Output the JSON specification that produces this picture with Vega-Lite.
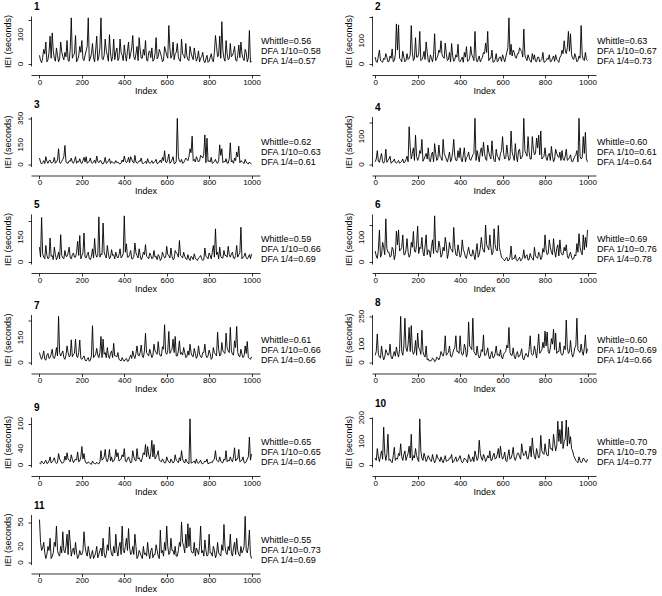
{
"$schema": "https://vega.github.io/schema/vega-lite/v6.json",
"padding": {"left": 3, "top": 2, "right": 0, "bottom": 0},
"background": "white",
"config": {
  "view": {"stroke": null},
  "font": "Liberation Sans",
  "axis": {"grid": false, "domainColor": "black", "tickColor": "black", "labelColor": "black", "titleColor": "black", "labelFont": "Liberation Sans", "titleFont": "Liberation Sans", "labelFontSize": 8, "titleFontSize": 9, "titleFontWeight": "normal", "tickSize": 3, "domainWidth": 0.8, "tickWidth": 0.8},
  "axisX": {"offset": 9, "labelPadding": 0, "titlePadding": 0, "labelFlush": false, "format": "d"},
  "axisY": {"labels": false, "titlePadding": 15},
  "title": {"anchor": "start", "frame": "group", "fontSize": 10, "fontWeight": "bold", "font": "Liberation Sans", "offset": 2, "color": "black", "dx": 3},
  "text": {"font": "Liberation Sans", "fontSize": 9, "color": "black"}
},
"datasets": {
"d1": [{"x":0,"y":30},{"x":10,"y":5},{"x":20,"y":50},{"x":30,"y":75},{"x":40,"y":15},{"x":50,"y":95},{"x":60,"y":106},{"x":70,"y":20},{"x":80,"y":55},{"x":90,"y":8},{"x":100,"y":75},{"x":110,"y":25},{"x":120,"y":40},{"x":130,"y":80},{"x":140,"y":10},{"x":150,"y":157},{"x":160,"y":30},{"x":170,"y":97},{"x":180,"y":15},{"x":190,"y":60},{"x":200,"y":80},{"x":210,"y":12},{"x":220,"y":45},{"x":230,"y":157},{"x":240,"y":20},{"x":250,"y":70},{"x":260,"y":8},{"x":270,"y":95},{"x":280,"y":25},{"x":290,"y":157},{"x":300,"y":15},{"x":310,"y":85},{"x":320,"y":30},{"x":330,"y":100},{"x":340,"y":10},{"x":350,"y":85},{"x":360,"y":40},{"x":370,"y":12},{"x":380,"y":85},{"x":390,"y":30},{"x":400,"y":65},{"x":410,"y":10},{"x":420,"y":75},{"x":430,"y":35},{"x":440,"y":97},{"x":450,"y":15},{"x":460,"y":60},{"x":470,"y":90},{"x":480,"y":20},{"x":490,"y":50},{"x":500,"y":80},{"x":510,"y":10},{"x":520,"y":45},{"x":530,"y":55},{"x":540,"y":15},{"x":550,"y":90},{"x":560,"y":25},{"x":570,"y":40},{"x":580,"y":8},{"x":590,"y":60},{"x":600,"y":30},{"x":610,"y":131},{"x":620,"y":20},{"x":630,"y":75},{"x":640,"y":35},{"x":650,"y":70},{"x":660,"y":12},{"x":670,"y":85},{"x":680,"y":30},{"x":690,"y":70},{"x":700,"y":15},{"x":710,"y":60},{"x":720,"y":25},{"x":730,"y":55},{"x":740,"y":10},{"x":750,"y":45},{"x":760,"y":20},{"x":770,"y":40},{"x":780,"y":5},{"x":790,"y":30},{"x":800,"y":10},{"x":810,"y":35},{"x":820,"y":8},{"x":830,"y":97},{"x":840,"y":25},{"x":850,"y":95},{"x":860,"y":144},{"x":870,"y":20},{"x":880,"y":80},{"x":890,"y":15},{"x":900,"y":70},{"x":910,"y":30},{"x":920,"y":60},{"x":930,"y":10},{"x":940,"y":65},{"x":950,"y":75},{"x":960,"y":20},{"x":970,"y":50},{"x":980,"y":8},{"x":990,"y":114},{"x":1000,"y":10},
{"x":5,"y":12},{"x":15,"y":22},{"x":25,"y":35},{"x":35,"y":8},{"x":45,"y":40},{"x":55,"y":20},{"x":65,"y":45},{"x":75,"y":10},{"x":85,"y":30},{"x":95,"y":18},{"x":105,"y":42},{"x":115,"y":15},{"x":125,"y":25},{"x":135,"y":12},{"x":145,"y":50},{"x":155,"y":20},{"x":165,"y":35},{"x":175,"y":8},{"x":185,"y":28},{"x":195,"y":40},{"x":205,"y":18},{"x":215,"y":30},{"x":225,"y":60},{"x":235,"y":10},{"x":245,"y":35},{"x":255,"y":22},{"x":265,"y":48},{"x":275,"y":12},{"x":285,"y":55},{"x":295,"y":20},{"x":305,"y":30},{"x":315,"y":45},{"x":325,"y":10},{"x":335,"y":38},{"x":345,"y":25},{"x":355,"y":15},{"x":365,"y":55},{"x":375,"y":20},{"x":385,"y":40},{"x":395,"y":12},{"x":405,"y":30},{"x":415,"y":45},{"x":425,"y":18},{"x":435,"y":55},{"x":445,"y":25},{"x":455,"y":35},{"x":465,"y":12},{"x":475,"y":48},{"x":485,"y":20},{"x":495,"y":30},{"x":505,"y":15},{"x":515,"y":40},{"x":525,"y":22},{"x":535,"y":10},{"x":545,"y":35},{"x":555,"y":18},{"x":565,"y":50},{"x":575,"y":25},{"x":585,"y":12},{"x":595,"y":45},{"x":605,"y":20},{"x":615,"y":55},{"x":625,"y":30},{"x":635,"y":15},{"x":645,"y":40},{"x":655,"y":25},{"x":665,"y":10},{"x":675,"y":35},{"x":685,"y":20},{"x":695,"y":28},{"x":705,"y":12},{"x":715,"y":38},{"x":725,"y":15},{"x":735,"y":30},{"x":745,"y":20},{"x":755,"y":8},{"x":765,"y":25},{"x":775,"y":12},{"x":785,"y":18},{"x":795,"y":6},{"x":805,"y":22},{"x":815,"y":15},{"x":825,"y":40},{"x":835,"y":60},{"x":845,"y":30},{"x":855,"y":20},{"x":865,"y":45},{"x":875,"y":10},{"x":885,"y":35},{"x":895,"y":18},{"x":905,"y":25},{"x":915,"y":40},{"x":925,"y":15},{"x":935,"y":30},{"x":945,"y":22},{"x":955,"y":35},{"x":965,"y":12},{"x":975,"y":40},{"x":985,"y":20},{"x":995,"y":6}],
"d2": [{"x":0,"y":30},{"x":10,"y":8},{"x":20,"y":60},{"x":30,"y":12},{"x":40,"y":25},{"x":50,"y":45},{"x":60,"y":10},{"x":70,"y":35},{"x":80,"y":65},{"x":90,"y":15},{"x":100,"y":172},{"x":110,"y":168},{"x":120,"y":20},{"x":130,"y":55},{"x":140,"y":10},{"x":150,"y":45},{"x":160,"y":25},{"x":170,"y":165},{"x":180,"y":15},{"x":190,"y":113},{"x":200,"y":30},{"x":210,"y":140},{"x":220,"y":20},{"x":230,"y":55},{"x":240,"y":95},{"x":250,"y":15},{"x":260,"y":40},{"x":270,"y":10},{"x":280,"y":130},{"x":290,"y":25},{"x":300,"y":60},{"x":310,"y":100},{"x":320,"y":30},{"x":330,"y":90},{"x":340,"y":15},{"x":350,"y":50},{"x":360,"y":88},{"x":370,"y":12},{"x":380,"y":40},{"x":390,"y":85},{"x":400,"y":10},{"x":410,"y":30},{"x":420,"y":50},{"x":430,"y":75},{"x":440,"y":15},{"x":450,"y":75},{"x":460,"y":30},{"x":470,"y":140},{"x":480,"y":10},{"x":490,"y":35},{"x":500,"y":20},{"x":510,"y":50},{"x":520,"y":90},{"x":530,"y":140},{"x":540,"y":25},{"x":550,"y":60},{"x":560,"y":10},{"x":570,"y":45},{"x":580,"y":15},{"x":590,"y":30},{"x":600,"y":40},{"x":610,"y":10},{"x":620,"y":50},{"x":630,"y":198},{"x":640,"y":85},{"x":650,"y":60},{"x":660,"y":30},{"x":670,"y":45},{"x":680,"y":70},{"x":690,"y":55},{"x":700,"y":150},{"x":710,"y":25},{"x":720,"y":40},{"x":730,"y":15},{"x":740,"y":45},{"x":750,"y":40},{"x":760,"y":10},{"x":770,"y":30},{"x":780,"y":15},{"x":790,"y":50},{"x":800,"y":10},{"x":810,"y":25},{"x":820,"y":40},{"x":830,"y":12},{"x":840,"y":35},{"x":850,"y":40},{"x":860,"y":15},{"x":870,"y":30},{"x":880,"y":60},{"x":890,"y":100},{"x":900,"y":45},{"x":910,"y":140},{"x":920,"y":130},{"x":930,"y":25},{"x":940,"y":45},{"x":950,"y":10},{"x":960,"y":35},{"x":970,"y":165},{"x":980,"y":20},{"x":990,"y":50},{"x":1000,"y":15},
{"x":5,"y":10},{"x":15,"y":35},{"x":25,"y":15},{"x":35,"y":8},{"x":45,"y":20},{"x":55,"y":30},{"x":65,"y":12},{"x":75,"y":25},{"x":85,"y":10},{"x":95,"y":40},{"x":105,"y":60},{"x":115,"y":25},{"x":125,"y":10},{"x":135,"y":30},{"x":145,"y":15},{"x":155,"y":20},{"x":165,"y":40},{"x":175,"y":50},{"x":185,"y":25},{"x":195,"y":30},{"x":205,"y":45},{"x":215,"y":15},{"x":225,"y":30},{"x":235,"y":20},{"x":245,"y":50},{"x":255,"y":8},{"x":265,"y":25},{"x":275,"y":40},{"x":285,"y":15},{"x":295,"y":35},{"x":305,"y":50},{"x":315,"y":40},{"x":325,"y":25},{"x":335,"y":45},{"x":345,"y":20},{"x":355,"y":10},{"x":365,"y":35},{"x":375,"y":20},{"x":385,"y":30},{"x":395,"y":15},{"x":405,"y":20},{"x":415,"y":8},{"x":425,"y":30},{"x":435,"y":12},{"x":445,"y":25},{"x":455,"y":40},{"x":465,"y":15},{"x":475,"y":30},{"x":485,"y":20},{"x":495,"y":10},{"x":505,"y":30},{"x":515,"y":45},{"x":525,"y":50},{"x":535,"y":15},{"x":545,"y":25},{"x":555,"y":8},{"x":565,"y":20},{"x":575,"y":10},{"x":585,"y":30},{"x":595,"y":12},{"x":605,"y":25},{"x":615,"y":30},{"x":625,"y":70},{"x":635,"y":40},{"x":645,"y":35},{"x":655,"y":50},{"x":665,"y":25},{"x":675,"y":45},{"x":685,"y":60},{"x":695,"y":30},{"x":705,"y":40},{"x":715,"y":15},{"x":725,"y":25},{"x":735,"y":8},{"x":745,"y":20},{"x":755,"y":12},{"x":765,"y":30},{"x":775,"y":10},{"x":785,"y":20},{"x":795,"y":8},{"x":805,"y":15},{"x":815,"y":20},{"x":825,"y":10},{"x":835,"y":25},{"x":845,"y":12},{"x":855,"y":20},{"x":865,"y":8},{"x":875,"y":35},{"x":885,"y":45},{"x":895,"y":60},{"x":905,"y":70},{"x":915,"y":55},{"x":925,"y":40},{"x":935,"y":20},{"x":945,"y":30},{"x":955,"y":15},{"x":965,"y":25},{"x":975,"y":40},{"x":985,"y":15},{"x":995,"y":20}],
"d3": [{"x":0,"y":50},{"x":10,"y":5},{"x":20,"y":30},{"x":30,"y":60},{"x":40,"y":10},{"x":50,"y":35},{"x":60,"y":15},{"x":70,"y":55},{"x":80,"y":20},{"x":90,"y":120},{"x":100,"y":10},{"x":110,"y":40},{"x":120,"y":145},{"x":130,"y":15},{"x":140,"y":30},{"x":150,"y":50},{"x":160,"y":10},{"x":170,"y":60},{"x":180,"y":25},{"x":190,"y":45},{"x":200,"y":8},{"x":210,"y":55},{"x":220,"y":60},{"x":230,"y":20},{"x":240,"y":50},{"x":250,"y":10},{"x":260,"y":35},{"x":270,"y":65},{"x":280,"y":15},{"x":290,"y":30},{"x":300,"y":5},{"x":310,"y":55},{"x":320,"y":15},{"x":330,"y":45},{"x":340,"y":25},{"x":350,"y":10},{"x":360,"y":30},{"x":370,"y":20},{"x":380,"y":5},{"x":390,"y":35},{"x":400,"y":65},{"x":410,"y":15},{"x":420,"y":55},{"x":430,"y":60},{"x":440,"y":20},{"x":450,"y":70},{"x":460,"y":10},{"x":470,"y":30},{"x":480,"y":50},{"x":490,"y":8},{"x":500,"y":25},{"x":510,"y":45},{"x":520,"y":10},{"x":530,"y":30},{"x":540,"y":15},{"x":550,"y":40},{"x":560,"y":10},{"x":570,"y":35},{"x":580,"y":55},{"x":590,"y":105},{"x":600,"y":15},{"x":610,"y":80},{"x":620,"y":20},{"x":630,"y":60},{"x":640,"y":10},{"x":650,"y":350},{"x":660,"y":25},{"x":670,"y":40},{"x":680,"y":15},{"x":690,"y":50},{"x":700,"y":30},{"x":710,"y":120},{"x":720,"y":215},{"x":730,"y":40},{"x":740,"y":60},{"x":750,"y":20},{"x":760,"y":70},{"x":770,"y":50},{"x":780,"y":225},{"x":790,"y":200},{"x":800,"y":30},{"x":810,"y":55},{"x":820,"y":15},{"x":830,"y":40},{"x":840,"y":10},{"x":850,"y":150},{"x":860,"y":120},{"x":870,"y":25},{"x":880,"y":45},{"x":890,"y":10},{"x":900,"y":165},{"x":910,"y":30},{"x":920,"y":50},{"x":930,"y":95},{"x":940,"y":140},{"x":950,"y":30},{"x":960,"y":15},{"x":970,"y":40},{"x":980,"y":10},{"x":990,"y":20},{"x":1000,"y":5},
{"x":5,"y":20},{"x":15,"y":15},{"x":25,"y":8},{"x":35,"y":25},{"x":45,"y":30},{"x":55,"y":12},{"x":65,"y":20},{"x":75,"y":10},{"x":85,"y":35},{"x":95,"y":15},{"x":105,"y":25},{"x":115,"y":60},{"x":125,"y":20},{"x":135,"y":10},{"x":145,"y":25},{"x":155,"y":18},{"x":165,"y":30},{"x":175,"y":10},{"x":185,"y":20},{"x":195,"y":15},{"x":205,"y":30},{"x":215,"y":20},{"x":225,"y":10},{"x":235,"y":25},{"x":245,"y":15},{"x":255,"y":20},{"x":265,"y":10},{"x":275,"y":25},{"x":285,"y":30},{"x":295,"y":8},{"x":305,"y":20},{"x":315,"y":10},{"x":325,"y":30},{"x":335,"y":8},{"x":345,"y":20},{"x":355,"y":12},{"x":365,"y":15},{"x":375,"y":8},{"x":385,"y":12},{"x":395,"y":20},{"x":405,"y":30},{"x":415,"y":25},{"x":425,"y":15},{"x":435,"y":40},{"x":445,"y":12},{"x":455,"y":20},{"x":465,"y":15},{"x":475,"y":25},{"x":485,"y":10},{"x":495,"y":15},{"x":505,"y":8},{"x":515,"y":20},{"x":525,"y":15},{"x":535,"y":10},{"x":545,"y":25},{"x":555,"y":8},{"x":565,"y":20},{"x":575,"y":15},{"x":585,"y":30},{"x":595,"y":20},{"x":605,"y":40},{"x":615,"y":10},{"x":625,"y":35},{"x":635,"y":8},{"x":645,"y":25},{"x":655,"y":60},{"x":665,"y":20},{"x":675,"y":10},{"x":685,"y":30},{"x":695,"y":40},{"x":705,"y":60},{"x":715,"y":90},{"x":725,"y":30},{"x":735,"y":20},{"x":745,"y":40},{"x":755,"y":30},{"x":765,"y":60},{"x":775,"y":80},{"x":785,"y":15},{"x":795,"y":25},{"x":805,"y":20},{"x":815,"y":10},{"x":825,"y":25},{"x":835,"y":15},{"x":845,"y":30},{"x":855,"y":70},{"x":865,"y":15},{"x":875,"y":20},{"x":885,"y":12},{"x":895,"y":45},{"x":905,"y":20},{"x":915,"y":10},{"x":925,"y":30},{"x":935,"y":60},{"x":945,"y":15},{"x":955,"y":25},{"x":965,"y":8},{"x":975,"y":20},{"x":985,"y":5},{"x":995,"y":10}],
"d4": [{"x":0,"y":10},{"x":10,"y":50},{"x":20,"y":8},{"x":30,"y":40},{"x":40,"y":5},{"x":50,"y":55},{"x":60,"y":15},{"x":70,"y":30},{"x":80,"y":10},{"x":90,"y":20},{"x":100,"y":5},{"x":110,"y":15},{"x":120,"y":8},{"x":130,"y":20},{"x":140,"y":10},{"x":150,"y":30},{"x":160,"y":135},{"x":170,"y":20},{"x":180,"y":60},{"x":190,"y":105},{"x":200,"y":15},{"x":210,"y":50},{"x":220,"y":90},{"x":230,"y":20},{"x":240,"y":40},{"x":250,"y":60},{"x":260,"y":10},{"x":270,"y":45},{"x":280,"y":75},{"x":290,"y":15},{"x":300,"y":70},{"x":310,"y":25},{"x":320,"y":90},{"x":330,"y":30},{"x":340,"y":10},{"x":350,"y":45},{"x":360,"y":20},{"x":370,"y":90},{"x":380,"y":15},{"x":390,"y":50},{"x":400,"y":60},{"x":410,"y":10},{"x":420,"y":60},{"x":430,"y":25},{"x":440,"y":45},{"x":450,"y":15},{"x":460,"y":35},{"x":470,"y":165},{"x":480,"y":50},{"x":490,"y":10},{"x":500,"y":60},{"x":510,"y":80},{"x":520,"y":20},{"x":530,"y":70},{"x":540,"y":30},{"x":550,"y":85},{"x":560,"y":15},{"x":570,"y":55},{"x":580,"y":25},{"x":590,"y":40},{"x":600,"y":100},{"x":610,"y":20},{"x":620,"y":70},{"x":630,"y":15},{"x":640,"y":120},{"x":650,"y":30},{"x":660,"y":75},{"x":670,"y":10},{"x":680,"y":55},{"x":690,"y":25},{"x":700,"y":165},{"x":710,"y":40},{"x":720,"y":100},{"x":730,"y":20},{"x":740,"y":100},{"x":750,"y":35},{"x":760,"y":95},{"x":770,"y":105},{"x":780,"y":120},{"x":790,"y":25},{"x":800,"y":60},{"x":810,"y":15},{"x":820,"y":40},{"x":830,"y":65},{"x":840,"y":10},{"x":850,"y":55},{"x":860,"y":30},{"x":870,"y":45},{"x":880,"y":50},{"x":890,"y":15},{"x":900,"y":55},{"x":910,"y":20},{"x":920,"y":35},{"x":930,"y":10},{"x":940,"y":30},{"x":950,"y":50},{"x":960,"y":165},{"x":970,"y":20},{"x":980,"y":100},{"x":990,"y":115},{"x":1000,"y":10},
{"x":5,"y":20},{"x":15,"y":12},{"x":25,"y":25},{"x":35,"y":10},{"x":45,"y":15},{"x":55,"y":8},{"x":65,"y":20},{"x":75,"y":5},{"x":85,"y":12},{"x":95,"y":8},{"x":105,"y":10},{"x":115,"y":5},{"x":125,"y":12},{"x":135,"y":6},{"x":145,"y":18},{"x":155,"y":10},{"x":165,"y":60},{"x":175,"y":40},{"x":185,"y":15},{"x":195,"y":30},{"x":205,"y":25},{"x":215,"y":40},{"x":225,"y":12},{"x":235,"y":30},{"x":245,"y":20},{"x":255,"y":15},{"x":265,"y":35},{"x":275,"y":10},{"x":285,"y":40},{"x":295,"y":20},{"x":305,"y":30},{"x":315,"y":15},{"x":325,"y":40},{"x":335,"y":20},{"x":345,"y":25},{"x":355,"y":10},{"x":365,"y":45},{"x":375,"y":30},{"x":385,"y":15},{"x":395,"y":25},{"x":405,"y":20},{"x":415,"y":35},{"x":425,"y":10},{"x":435,"y":30},{"x":445,"y":20},{"x":455,"y":25},{"x":465,"y":40},{"x":475,"y":15},{"x":485,"y":30},{"x":495,"y":45},{"x":505,"y":30},{"x":515,"y":40},{"x":525,"y":15},{"x":535,"y":45},{"x":545,"y":20},{"x":555,"y":35},{"x":565,"y":10},{"x":575,"y":30},{"x":585,"y":15},{"x":595,"y":50},{"x":605,"y":40},{"x":615,"y":25},{"x":625,"y":35},{"x":635,"y":20},{"x":645,"y":45},{"x":655,"y":15},{"x":665,"y":30},{"x":675,"y":50},{"x":685,"y":20},{"x":695,"y":35},{"x":705,"y":50},{"x":715,"y":30},{"x":725,"y":45},{"x":735,"y":20},{"x":745,"y":55},{"x":755,"y":40},{"x":765,"y":60},{"x":775,"y":35},{"x":785,"y":20},{"x":795,"y":30},{"x":805,"y":25},{"x":815,"y":35},{"x":825,"y":15},{"x":835,"y":30},{"x":845,"y":20},{"x":855,"y":40},{"x":865,"y":25},{"x":875,"y":15},{"x":885,"y":20},{"x":895,"y":30},{"x":905,"y":15},{"x":915,"y":25},{"x":925,"y":12},{"x":935,"y":20},{"x":945,"y":35},{"x":955,"y":10},{"x":965,"y":30},{"x":975,"y":25},{"x":985,"y":40},{"x":995,"y":20}],
"d5": [{"x":0,"y":90},{"x":10,"y":268},{"x":20,"y":30},{"x":30,"y":100},{"x":40,"y":20},{"x":50,"y":145},{"x":60,"y":40},{"x":70,"y":90},{"x":80,"y":15},{"x":90,"y":60},{"x":100,"y":165},{"x":110,"y":25},{"x":120,"y":70},{"x":130,"y":35},{"x":140,"y":90},{"x":150,"y":20},{"x":160,"y":55},{"x":170,"y":30},{"x":180,"y":125},{"x":190,"y":160},{"x":200,"y":40},{"x":210,"y":175},{"x":220,"y":25},{"x":230,"y":60},{"x":240,"y":15},{"x":250,"y":80},{"x":260,"y":142},{"x":270,"y":30},{"x":280,"y":272},{"x":290,"y":50},{"x":300,"y":235},{"x":310,"y":40},{"x":320,"y":100},{"x":330,"y":20},{"x":340,"y":75},{"x":350,"y":45},{"x":360,"y":60},{"x":370,"y":25},{"x":380,"y":80},{"x":390,"y":35},{"x":400,"y":278},{"x":410,"y":110},{"x":420,"y":30},{"x":430,"y":70},{"x":440,"y":20},{"x":450,"y":115},{"x":460,"y":40},{"x":470,"y":80},{"x":480,"y":15},{"x":490,"y":60},{"x":500,"y":105},{"x":510,"y":30},{"x":520,"y":55},{"x":530,"y":20},{"x":540,"y":70},{"x":550,"y":35},{"x":560,"y":45},{"x":570,"y":10},{"x":580,"y":60},{"x":590,"y":25},{"x":600,"y":95},{"x":610,"y":40},{"x":620,"y":85},{"x":630,"y":15},{"x":640,"y":70},{"x":650,"y":50},{"x":660,"y":130},{"x":670,"y":35},{"x":680,"y":60},{"x":690,"y":20},{"x":700,"y":45},{"x":710,"y":10},{"x":720,"y":30},{"x":730,"y":50},{"x":740,"y":15},{"x":750,"y":25},{"x":760,"y":40},{"x":770,"y":10},{"x":780,"y":85},{"x":790,"y":30},{"x":800,"y":55},{"x":810,"y":20},{"x":820,"y":100},{"x":830,"y":200},{"x":840,"y":60},{"x":850,"y":90},{"x":860,"y":25},{"x":870,"y":70},{"x":880,"y":40},{"x":890,"y":95},{"x":900,"y":30},{"x":910,"y":60},{"x":920,"y":20},{"x":930,"y":100},{"x":940,"y":45},{"x":950,"y":210},{"x":960,"y":30},{"x":970,"y":55},{"x":980,"y":20},{"x":990,"y":45},{"x":1000,"y":50},
{"x":5,"y":30},{"x":15,"y":50},{"x":25,"y":20},{"x":35,"y":40},{"x":45,"y":25},{"x":55,"y":35},{"x":65,"y":15},{"x":75,"y":45},{"x":85,"y":30},{"x":95,"y":20},{"x":105,"y":40},{"x":115,"y":20},{"x":125,"y":35},{"x":135,"y":55},{"x":145,"y":25},{"x":155,"y":45},{"x":165,"y":30},{"x":175,"y":60},{"x":185,"y":40},{"x":195,"y":20},{"x":205,"y":55},{"x":215,"y":30},{"x":225,"y":45},{"x":235,"y":20},{"x":245,"y":35},{"x":255,"y":25},{"x":265,"y":50},{"x":275,"y":40},{"x":285,"y":30},{"x":295,"y":45},{"x":305,"y":60},{"x":315,"y":25},{"x":325,"y":50},{"x":335,"y":30},{"x":345,"y":40},{"x":355,"y":20},{"x":365,"y":35},{"x":375,"y":45},{"x":385,"y":25},{"x":395,"y":50},{"x":405,"y":60},{"x":415,"y":30},{"x":425,"y":45},{"x":435,"y":20},{"x":445,"y":35},{"x":455,"y":55},{"x":465,"y":25},{"x":475,"y":40},{"x":485,"y":30},{"x":495,"y":45},{"x":505,"y":35},{"x":515,"y":20},{"x":525,"y":40},{"x":535,"y":25},{"x":545,"y":30},{"x":555,"y":15},{"x":565,"y":35},{"x":575,"y":20},{"x":585,"y":40},{"x":595,"y":30},{"x":605,"y":45},{"x":615,"y":25},{"x":625,"y":35},{"x":635,"y":20},{"x":645,"y":55},{"x":655,"y":30},{"x":665,"y":40},{"x":675,"y":25},{"x":685,"y":35},{"x":695,"y":15},{"x":705,"y":20},{"x":715,"y":35},{"x":725,"y":15},{"x":735,"y":25},{"x":745,"y":10},{"x":755,"y":30},{"x":765,"y":20},{"x":775,"y":15},{"x":785,"y":35},{"x":795,"y":20},{"x":805,"y":40},{"x":815,"y":60},{"x":825,"y":30},{"x":835,"y":45},{"x":845,"y":20},{"x":855,"y":35},{"x":865,"y":25},{"x":875,"y":40},{"x":885,"y":30},{"x":895,"y":45},{"x":905,"y":50},{"x":915,"y":25},{"x":925,"y":40},{"x":935,"y":30},{"x":945,"y":55},{"x":955,"y":20},{"x":965,"y":35},{"x":975,"y":25},{"x":985,"y":30},{"x":995,"y":20}],
"d6": [{"x":0,"y":45},{"x":10,"y":15},{"x":20,"y":130},{"x":30,"y":30},{"x":40,"y":60},{"x":50,"y":175},{"x":60,"y":40},{"x":70,"y":20},{"x":80,"y":60},{"x":90,"y":10},{"x":100,"y":125},{"x":110,"y":130},{"x":120,"y":50},{"x":130,"y":110},{"x":140,"y":30},{"x":150,"y":95},{"x":160,"y":20},{"x":170,"y":80},{"x":180,"y":124},{"x":190,"y":40},{"x":200,"y":145},{"x":210,"y":60},{"x":220,"y":100},{"x":230,"y":25},{"x":240,"y":110},{"x":250,"y":50},{"x":260,"y":20},{"x":270,"y":90},{"x":280,"y":187},{"x":290,"y":40},{"x":300,"y":85},{"x":310,"y":20},{"x":320,"y":60},{"x":330,"y":100},{"x":340,"y":15},{"x":350,"y":80},{"x":360,"y":50},{"x":370,"y":140},{"x":380,"y":30},{"x":390,"y":70},{"x":400,"y":20},{"x":410,"y":90},{"x":420,"y":40},{"x":430,"y":15},{"x":440,"y":60},{"x":450,"y":25},{"x":460,"y":50},{"x":470,"y":10},{"x":480,"y":75},{"x":490,"y":30},{"x":500,"y":100},{"x":510,"y":45},{"x":520,"y":150},{"x":530,"y":60},{"x":540,"y":110},{"x":550,"y":30},{"x":560,"y":135},{"x":570,"y":50},{"x":580,"y":148},{"x":590,"y":40},{"x":600,"y":15},{"x":610,"y":5},{"x":620,"y":20},{"x":630,"y":8},{"x":640,"y":65},{"x":650,"y":15},{"x":660,"y":30},{"x":670,"y":5},{"x":680,"y":20},{"x":690,"y":10},{"x":700,"y":50},{"x":710,"y":25},{"x":720,"y":8},{"x":730,"y":35},{"x":740,"y":15},{"x":750,"y":60},{"x":760,"y":20},{"x":770,"y":40},{"x":780,"y":10},{"x":790,"y":55},{"x":800,"y":110},{"x":810,"y":30},{"x":820,"y":90},{"x":830,"y":40},{"x":840,"y":95},{"x":850,"y":20},{"x":860,"y":70},{"x":870,"y":90},{"x":880,"y":30},{"x":890,"y":60},{"x":900,"y":70},{"x":910,"y":15},{"x":920,"y":40},{"x":930,"y":10},{"x":940,"y":30},{"x":950,"y":75},{"x":960,"y":115},{"x":970,"y":40},{"x":980,"y":110},{"x":990,"y":100},{"x":1000,"y":130},
{"x":5,"y":25},{"x":15,"y":50},{"x":25,"y":20},{"x":35,"y":80},{"x":45,"y":30},{"x":55,"y":55},{"x":65,"y":40},{"x":75,"y":25},{"x":85,"y":50},{"x":95,"y":30},{"x":105,"y":70},{"x":115,"y":45},{"x":125,"y":60},{"x":135,"y":30},{"x":145,"y":50},{"x":155,"y":40},{"x":165,"y":30},{"x":175,"y":60},{"x":185,"y":45},{"x":195,"y":70},{"x":205,"y":35},{"x":215,"y":55},{"x":225,"y":40},{"x":235,"y":65},{"x":245,"y":30},{"x":255,"y":45},{"x":265,"y":60},{"x":275,"y":35},{"x":285,"y":50},{"x":295,"y":40},{"x":305,"y":60},{"x":315,"y":30},{"x":325,"y":45},{"x":335,"y":70},{"x":345,"y":35},{"x":355,"y":55},{"x":365,"y":40},{"x":375,"y":60},{"x":385,"y":25},{"x":395,"y":45},{"x":405,"y":30},{"x":415,"y":50},{"x":425,"y":20},{"x":435,"y":40},{"x":445,"y":35},{"x":455,"y":25},{"x":465,"y":30},{"x":475,"y":45},{"x":485,"y":20},{"x":495,"y":55},{"x":505,"y":60},{"x":515,"y":40},{"x":525,"y":70},{"x":535,"y":50},{"x":545,"y":60},{"x":555,"y":40},{"x":565,"y":70},{"x":575,"y":45},{"x":585,"y":60},{"x":595,"y":20},{"x":605,"y":10},{"x":615,"y":15},{"x":625,"y":5},{"x":635,"y":20},{"x":645,"y":10},{"x":655,"y":15},{"x":665,"y":8},{"x":675,"y":12},{"x":685,"y":5},{"x":695,"y":20},{"x":705,"y":15},{"x":715,"y":30},{"x":725,"y":10},{"x":735,"y":20},{"x":745,"y":8},{"x":755,"y":25},{"x":765,"y":15},{"x":775,"y":30},{"x":785,"y":20},{"x":795,"y":40},{"x":805,"y":50},{"x":815,"y":35},{"x":825,"y":60},{"x":835,"y":30},{"x":845,"y":45},{"x":855,"y":55},{"x":865,"y":25},{"x":875,"y":40},{"x":885,"y":30},{"x":895,"y":45},{"x":905,"y":25},{"x":915,"y":30},{"x":925,"y":20},{"x":935,"y":15},{"x":945,"y":25},{"x":955,"y":40},{"x":965,"y":60},{"x":975,"y":30},{"x":985,"y":50},{"x":995,"y":60}],
"d7": [{"x":0,"y":60},{"x":10,"y":20},{"x":20,"y":70},{"x":30,"y":15},{"x":40,"y":55},{"x":50,"y":30},{"x":60,"y":80},{"x":70,"y":25},{"x":80,"y":90},{"x":90,"y":276},{"x":100,"y":40},{"x":110,"y":70},{"x":120,"y":20},{"x":130,"y":100},{"x":140,"y":35},{"x":150,"y":136},{"x":160,"y":50},{"x":170,"y":140},{"x":180,"y":30},{"x":190,"y":135},{"x":200,"y":20},{"x":210,"y":40},{"x":220,"y":10},{"x":230,"y":30},{"x":240,"y":15},{"x":250,"y":220},{"x":260,"y":40},{"x":270,"y":85},{"x":280,"y":30},{"x":290,"y":156},{"x":300,"y":140},{"x":310,"y":60},{"x":320,"y":90},{"x":330,"y":25},{"x":340,"y":70},{"x":350,"y":115},{"x":360,"y":40},{"x":370,"y":60},{"x":380,"y":15},{"x":390,"y":30},{"x":400,"y":8},{"x":410,"y":25},{"x":420,"y":10},{"x":430,"y":45},{"x":440,"y":70},{"x":450,"y":25},{"x":460,"y":100},{"x":470,"y":40},{"x":480,"y":105},{"x":490,"y":30},{"x":500,"y":176},{"x":510,"y":50},{"x":520,"y":80},{"x":530,"y":30},{"x":540,"y":110},{"x":550,"y":60},{"x":560,"y":125},{"x":570,"y":40},{"x":580,"y":95},{"x":590,"y":226},{"x":600,"y":50},{"x":610,"y":186},{"x":620,"y":70},{"x":630,"y":140},{"x":640,"y":156},{"x":650,"y":40},{"x":660,"y":130},{"x":670,"y":60},{"x":680,"y":90},{"x":690,"y":30},{"x":700,"y":70},{"x":710,"y":110},{"x":720,"y":40},{"x":730,"y":85},{"x":740,"y":25},{"x":750,"y":100},{"x":760,"y":35},{"x":770,"y":60},{"x":780,"y":110},{"x":790,"y":30},{"x":800,"y":75},{"x":810,"y":20},{"x":820,"y":90},{"x":830,"y":50},{"x":840,"y":182},{"x":850,"y":40},{"x":860,"y":120},{"x":870,"y":60},{"x":880,"y":176},{"x":890,"y":70},{"x":900,"y":210},{"x":910,"y":50},{"x":920,"y":130},{"x":930,"y":216},{"x":940,"y":40},{"x":950,"y":80},{"x":960,"y":30},{"x":970,"y":100},{"x":980,"y":126},{"x":990,"y":25},{"x":1000,"y":35},
{"x":5,"y":35},{"x":15,"y":40},{"x":25,"y":20},{"x":35,"y":45},{"x":45,"y":25},{"x":55,"y":50},{"x":65,"y":30},{"x":75,"y":45},{"x":85,"y":40},{"x":95,"y":60},{"x":105,"y":55},{"x":115,"y":30},{"x":125,"y":45},{"x":135,"y":60},{"x":145,"y":40},{"x":155,"y":35},{"x":165,"y":55},{"x":175,"y":40},{"x":185,"y":60},{"x":195,"y":25},{"x":205,"y":30},{"x":215,"y":15},{"x":225,"y":20},{"x":235,"y":8},{"x":245,"y":40},{"x":255,"y":30},{"x":265,"y":50},{"x":275,"y":45},{"x":285,"y":60},{"x":295,"y":30},{"x":305,"y":50},{"x":315,"y":30},{"x":325,"y":40},{"x":335,"y":55},{"x":345,"y":30},{"x":355,"y":40},{"x":365,"y":35},{"x":375,"y":20},{"x":385,"y":10},{"x":395,"y":15},{"x":405,"y":20},{"x":415,"y":8},{"x":425,"y":30},{"x":435,"y":25},{"x":445,"y":40},{"x":455,"y":55},{"x":465,"y":45},{"x":475,"y":60},{"x":485,"y":40},{"x":495,"y":70},{"x":505,"y":60},{"x":515,"y":40},{"x":525,"y":55},{"x":535,"y":45},{"x":545,"y":70},{"x":555,"y":50},{"x":565,"y":60},{"x":575,"y":40},{"x":585,"y":80},{"x":595,"y":60},{"x":605,"y":70},{"x":615,"y":55},{"x":625,"y":80},{"x":635,"y":60},{"x":645,"y":40},{"x":655,"y":70},{"x":665,"y":50},{"x":675,"y":45},{"x":685,"y":60},{"x":695,"y":35},{"x":705,"y":45},{"x":715,"y":60},{"x":725,"y":35},{"x":735,"y":55},{"x":745,"y":40},{"x":755,"y":50},{"x":765,"y":30},{"x":775,"y":60},{"x":785,"y":45},{"x":795,"y":40},{"x":805,"y":55},{"x":815,"y":30},{"x":825,"y":60},{"x":835,"y":40},{"x":845,"y":80},{"x":855,"y":45},{"x":865,"y":70},{"x":875,"y":55},{"x":885,"y":90},{"x":895,"y":60},{"x":905,"y":70},{"x":915,"y":45},{"x":925,"y":90},{"x":935,"y":60},{"x":945,"y":35},{"x":955,"y":50},{"x":965,"y":40},{"x":975,"y":55},{"x":985,"y":30},{"x":995,"y":20}],
"d8": [{"x":0,"y":40},{"x":10,"y":155},{"x":20,"y":30},{"x":30,"y":90},{"x":40,"y":15},{"x":50,"y":70},{"x":60,"y":40},{"x":70,"y":100},{"x":80,"y":20},{"x":90,"y":60},{"x":100,"y":85},{"x":110,"y":30},{"x":120,"y":250},{"x":130,"y":40},{"x":140,"y":240},{"x":150,"y":60},{"x":160,"y":190},{"x":170,"y":200},{"x":180,"y":45},{"x":190,"y":120},{"x":200,"y":160},{"x":210,"y":70},{"x":220,"y":175},{"x":230,"y":40},{"x":240,"y":90},{"x":250,"y":20},{"x":260,"y":10},{"x":270,"y":25},{"x":280,"y":5},{"x":290,"y":30},{"x":300,"y":15},{"x":310,"y":60},{"x":320,"y":35},{"x":330,"y":145},{"x":340,"y":50},{"x":350,"y":90},{"x":360,"y":30},{"x":370,"y":70},{"x":380,"y":145},{"x":390,"y":60},{"x":400,"y":145},{"x":410,"y":40},{"x":420,"y":100},{"x":430,"y":30},{"x":440,"y":220},{"x":450,"y":80},{"x":460,"y":240},{"x":470,"y":50},{"x":480,"y":90},{"x":490,"y":25},{"x":500,"y":70},{"x":510,"y":150},{"x":520,"y":40},{"x":530,"y":80},{"x":540,"y":20},{"x":550,"y":60},{"x":560,"y":30},{"x":570,"y":90},{"x":580,"y":45},{"x":590,"y":70},{"x":600,"y":20},{"x":610,"y":55},{"x":620,"y":95},{"x":630,"y":190},{"x":640,"y":40},{"x":650,"y":80},{"x":660,"y":20},{"x":670,"y":60},{"x":680,"y":35},{"x":690,"y":75},{"x":700,"y":15},{"x":710,"y":50},{"x":720,"y":30},{"x":730,"y":145},{"x":740,"y":40},{"x":750,"y":90},{"x":760,"y":25},{"x":770,"y":155},{"x":780,"y":60},{"x":790,"y":110},{"x":800,"y":170},{"x":810,"y":165},{"x":820,"y":50},{"x":830,"y":130},{"x":840,"y":180},{"x":850,"y":160},{"x":860,"y":60},{"x":870,"y":110},{"x":880,"y":40},{"x":890,"y":90},{"x":900,"y":230},{"x":910,"y":50},{"x":920,"y":120},{"x":930,"y":30},{"x":940,"y":80},{"x":950,"y":240},{"x":960,"y":60},{"x":970,"y":100},{"x":980,"y":40},{"x":990,"y":150},{"x":1000,"y":75},
{"x":5,"y":60},{"x":15,"y":45},{"x":25,"y":25},{"x":35,"y":40},{"x":45,"y":30},{"x":55,"y":55},{"x":65,"y":45},{"x":75,"y":30},{"x":85,"y":40},{"x":95,"y":35},{"x":105,"y":50},{"x":115,"y":70},{"x":125,"y":60},{"x":135,"y":90},{"x":145,"y":80},{"x":155,"y":100},{"x":165,"y":60},{"x":175,"y":70},{"x":185,"y":60},{"x":195,"y":40},{"x":205,"y":80},{"x":215,"y":45},{"x":225,"y":60},{"x":235,"y":30},{"x":245,"y":15},{"x":255,"y":8},{"x":265,"y":12},{"x":275,"y":20},{"x":285,"y":10},{"x":295,"y":25},{"x":305,"y":30},{"x":315,"y":45},{"x":325,"y":60},{"x":335,"y":40},{"x":345,"y":55},{"x":355,"y":35},{"x":365,"y":50},{"x":375,"y":80},{"x":385,"y":60},{"x":395,"y":50},{"x":405,"y":60},{"x":415,"y":45},{"x":425,"y":80},{"x":435,"y":55},{"x":445,"y":90},{"x":455,"y":70},{"x":465,"y":60},{"x":475,"y":40},{"x":485,"y":45},{"x":495,"y":35},{"x":505,"y":60},{"x":515,"y":40},{"x":525,"y":55},{"x":535,"y":35},{"x":545,"y":45},{"x":555,"y":25},{"x":565,"y":50},{"x":575,"y":40},{"x":585,"y":35},{"x":595,"y":30},{"x":605,"y":45},{"x":615,"y":60},{"x":625,"y":80},{"x":635,"y":55},{"x":645,"y":40},{"x":655,"y":35},{"x":665,"y":45},{"x":675,"y":30},{"x":685,"y":50},{"x":695,"y":25},{"x":705,"y":35},{"x":715,"y":40},{"x":725,"y":70},{"x":735,"y":55},{"x":745,"y":45},{"x":755,"y":60},{"x":765,"y":80},{"x":775,"y":50},{"x":785,"y":70},{"x":795,"y":80},{"x":805,"y":90},{"x":815,"y":60},{"x":825,"y":80},{"x":835,"y":100},{"x":845,"y":70},{"x":855,"y":50},{"x":865,"y":60},{"x":875,"y":50},{"x":885,"y":45},{"x":895,"y":70},{"x":905,"y":80},{"x":915,"y":60},{"x":925,"y":55},{"x":935,"y":45},{"x":945,"y":90},{"x":955,"y":70},{"x":965,"y":55},{"x":975,"y":60},{"x":985,"y":80},{"x":995,"y":50}],
"d9": [{"x":0,"y":5},{"x":10,"y":10},{"x":20,"y":3},{"x":30,"y":12},{"x":40,"y":5},{"x":50,"y":20},{"x":60,"y":8},{"x":70,"y":18},{"x":80,"y":4},{"x":90,"y":28},{"x":100,"y":10},{"x":110,"y":5},{"x":120,"y":22},{"x":130,"y":30},{"x":140,"y":12},{"x":150,"y":25},{"x":160,"y":6},{"x":170,"y":15},{"x":180,"y":32},{"x":190,"y":10},{"x":200,"y":45},{"x":210,"y":28},{"x":220,"y":5},{"x":230,"y":8},{"x":240,"y":3},{"x":250,"y":10},{"x":260,"y":4},{"x":270,"y":7},{"x":280,"y":3},{"x":290,"y":35},{"x":300,"y":15},{"x":310,"y":38},{"x":320,"y":8},{"x":330,"y":38},{"x":340,"y":20},{"x":350,"y":10},{"x":360,"y":38},{"x":370,"y":30},{"x":380,"y":12},{"x":390,"y":25},{"x":400,"y":40},{"x":410,"y":8},{"x":420,"y":20},{"x":430,"y":5},{"x":440,"y":35},{"x":450,"y":12},{"x":460,"y":40},{"x":470,"y":18},{"x":480,"y":8},{"x":490,"y":30},{"x":500,"y":50},{"x":510,"y":45},{"x":520,"y":15},{"x":530,"y":60},{"x":540,"y":50},{"x":550,"y":20},{"x":560,"y":35},{"x":570,"y":10},{"x":580,"y":15},{"x":590,"y":5},{"x":600,"y":20},{"x":610,"y":8},{"x":620,"y":15},{"x":630,"y":5},{"x":640,"y":25},{"x":650,"y":10},{"x":660,"y":18},{"x":670,"y":35},{"x":680,"y":8},{"x":690,"y":15},{"x":700,"y":5},{"x":710,"y":112},{"x":720,"y":6},{"x":730,"y":10},{"x":740,"y":15},{"x":750,"y":4},{"x":760,"y":12},{"x":770,"y":3},{"x":780,"y":10},{"x":790,"y":15},{"x":800,"y":5},{"x":810,"y":8},{"x":820,"y":12},{"x":830,"y":35},{"x":840,"y":10},{"x":850,"y":20},{"x":860,"y":6},{"x":870,"y":15},{"x":880,"y":35},{"x":890,"y":12},{"x":900,"y":20},{"x":910,"y":8},{"x":920,"y":42},{"x":930,"y":15},{"x":940,"y":38},{"x":950,"y":10},{"x":960,"y":20},{"x":970,"y":5},{"x":980,"y":15},{"x":990,"y":68},{"x":1000,"y":27},
{"x":5,"y":3},{"x":15,"y":6},{"x":25,"y":8},{"x":35,"y":4},{"x":45,"y":10},{"x":55,"y":5},{"x":65,"y":12},{"x":75,"y":8},{"x":85,"y":6},{"x":95,"y":15},{"x":105,"y":5},{"x":115,"y":8},{"x":125,"y":12},{"x":135,"y":15},{"x":145,"y":8},{"x":155,"y":14},{"x":165,"y":10},{"x":175,"y":12},{"x":185,"y":8},{"x":195,"y":20},{"x":205,"y":15},{"x":215,"y":10},{"x":225,"y":4},{"x":235,"y":6},{"x":245,"y":2},{"x":255,"y":5},{"x":265,"y":3},{"x":275,"y":4},{"x":285,"y":8},{"x":295,"y":12},{"x":305,"y":20},{"x":315,"y":12},{"x":325,"y":18},{"x":335,"y":10},{"x":345,"y":8},{"x":355,"y":15},{"x":365,"y":20},{"x":375,"y":10},{"x":385,"y":15},{"x":395,"y":20},{"x":405,"y":10},{"x":415,"y":15},{"x":425,"y":12},{"x":435,"y":8},{"x":445,"y":20},{"x":455,"y":10},{"x":465,"y":15},{"x":475,"y":12},{"x":485,"y":18},{"x":495,"y":25},{"x":505,"y":20},{"x":515,"y":25},{"x":525,"y":30},{"x":535,"y":20},{"x":545,"y":15},{"x":555,"y":25},{"x":565,"y":12},{"x":575,"y":8},{"x":585,"y":10},{"x":595,"y":6},{"x":605,"y":12},{"x":615,"y":5},{"x":625,"y":10},{"x":635,"y":8},{"x":645,"y":12},{"x":655,"y":6},{"x":665,"y":10},{"x":675,"y":15},{"x":685,"y":5},{"x":695,"y":8},{"x":705,"y":3},{"x":715,"y":5},{"x":725,"y":8},{"x":735,"y":4},{"x":745,"y":6},{"x":755,"y":8},{"x":765,"y":4},{"x":775,"y":6},{"x":785,"y":8},{"x":795,"y":3},{"x":805,"y":5},{"x":815,"y":6},{"x":825,"y":15},{"x":835,"y":12},{"x":845,"y":8},{"x":855,"y":10},{"x":865,"y":6},{"x":875,"y":12},{"x":885,"y":8},{"x":895,"y":10},{"x":905,"y":12},{"x":915,"y":20},{"x":925,"y":10},{"x":935,"y":15},{"x":945,"y":8},{"x":955,"y":12},{"x":965,"y":6},{"x":975,"y":8},{"x":985,"y":20},{"x":995,"y":12}],
"d10": [{"x":0,"y":30},{"x":10,"y":70},{"x":20,"y":15},{"x":30,"y":60},{"x":40,"y":160},{"x":50,"y":20},{"x":60,"y":130},{"x":70,"y":25},{"x":80,"y":10},{"x":90,"y":75},{"x":100,"y":30},{"x":110,"y":50},{"x":120,"y":90},{"x":130,"y":20},{"x":140,"y":60},{"x":150,"y":35},{"x":160,"y":80},{"x":170,"y":130},{"x":180,"y":40},{"x":190,"y":70},{"x":200,"y":25},{"x":210,"y":195},{"x":220,"y":30},{"x":230,"y":50},{"x":240,"y":15},{"x":250,"y":40},{"x":260,"y":20},{"x":270,"y":45},{"x":280,"y":10},{"x":290,"y":45},{"x":300,"y":25},{"x":310,"y":35},{"x":320,"y":10},{"x":330,"y":40},{"x":340,"y":20},{"x":350,"y":30},{"x":360,"y":45},{"x":370,"y":15},{"x":380,"y":35},{"x":390,"y":20},{"x":400,"y":40},{"x":410,"y":10},{"x":420,"y":30},{"x":430,"y":20},{"x":440,"y":45},{"x":450,"y":15},{"x":460,"y":35},{"x":470,"y":60},{"x":480,"y":20},{"x":490,"y":105},{"x":500,"y":30},{"x":510,"y":45},{"x":520,"y":15},{"x":530,"y":40},{"x":540,"y":60},{"x":550,"y":20},{"x":560,"y":50},{"x":570,"y":30},{"x":580,"y":70},{"x":590,"y":80},{"x":600,"y":25},{"x":610,"y":55},{"x":620,"y":15},{"x":630,"y":65},{"x":640,"y":30},{"x":650,"y":75},{"x":660,"y":20},{"x":670,"y":50},{"x":680,"y":35},{"x":690,"y":90},{"x":700,"y":40},{"x":710,"y":60},{"x":720,"y":25},{"x":730,"y":80},{"x":740,"y":115},{"x":750,"y":35},{"x":760,"y":70},{"x":770,"y":30},{"x":780,"y":125},{"x":790,"y":50},{"x":800,"y":90},{"x":810,"y":40},{"x":820,"y":110},{"x":830,"y":70},{"x":840,"y":130},{"x":850,"y":60},{"x":860,"y":185},{"x":870,"y":150},{"x":880,"y":185},{"x":890,"y":100},{"x":900,"y":190},{"x":910,"y":160},{"x":920,"y":120},{"x":930,"y":60},{"x":940,"y":30},{"x":950,"y":15},{"x":960,"y":35},{"x":970,"y":10},{"x":980,"y":30},{"x":990,"y":15},{"x":1000,"y":25},
{"x":5,"y":20},{"x":15,"y":35},{"x":25,"y":40},{"x":35,"y":25},{"x":45,"y":50},{"x":55,"y":45},{"x":65,"y":20},{"x":75,"y":15},{"x":85,"y":40},{"x":95,"y":20},{"x":105,"y":25},{"x":115,"y":40},{"x":125,"y":35},{"x":135,"y":45},{"x":145,"y":20},{"x":155,"y":50},{"x":165,"y":30},{"x":175,"y":20},{"x":185,"y":30},{"x":195,"y":40},{"x":205,"y":15},{"x":215,"y":60},{"x":225,"y":20},{"x":235,"y":35},{"x":245,"y":25},{"x":255,"y":30},{"x":265,"y":15},{"x":275,"y":25},{"x":285,"y":20},{"x":295,"y":30},{"x":305,"y":15},{"x":315,"y":20},{"x":325,"y":25},{"x":335,"y":15},{"x":345,"y":20},{"x":355,"y":30},{"x":365,"y":10},{"x":375,"y":25},{"x":385,"y":15},{"x":395,"y":30},{"x":405,"y":20},{"x":415,"y":15},{"x":425,"y":25},{"x":435,"y":10},{"x":445,"y":30},{"x":455,"y":20},{"x":465,"y":15},{"x":475,"y":40},{"x":485,"y":30},{"x":495,"y":50},{"x":505,"y":20},{"x":515,"y":35},{"x":525,"y":25},{"x":535,"y":30},{"x":545,"y":20},{"x":555,"y":40},{"x":565,"y":25},{"x":575,"y":45},{"x":585,"y":30},{"x":595,"y":40},{"x":605,"y":35},{"x":615,"y":20},{"x":625,"y":40},{"x":635,"y":25},{"x":645,"y":45},{"x":655,"y":30},{"x":665,"y":35},{"x":675,"y":50},{"x":685,"y":25},{"x":695,"y":55},{"x":705,"y":45},{"x":715,"y":30},{"x":725,"y":50},{"x":735,"y":35},{"x":745,"y":60},{"x":755,"y":25},{"x":765,"y":50},{"x":775,"y":40},{"x":785,"y":60},{"x":795,"y":45},{"x":805,"y":55},{"x":815,"y":40},{"x":825,"y":70},{"x":835,"y":60},{"x":845,"y":90},{"x":855,"y":80},{"x":865,"y":100},{"x":875,"y":90},{"x":885,"y":70},{"x":895,"y":110},{"x":905,"y":80},{"x":915,"y":90},{"x":925,"y":70},{"x":935,"y":40},{"x":945,"y":20},{"x":955,"y":10},{"x":965,"y":20},{"x":975,"y":15},{"x":985,"y":25},{"x":995,"y":12}],
"d11": [{"x":0,"y":53},{"x":10,"y":15},{"x":20,"y":25},{"x":30,"y":5},{"x":40,"y":20},{"x":50,"y":30},{"x":60,"y":8},{"x":70,"y":25},{"x":80,"y":45},{"x":90,"y":10},{"x":100,"y":20},{"x":110,"y":38},{"x":120,"y":12},{"x":130,"y":35},{"x":140,"y":40},{"x":150,"y":8},{"x":160,"y":18},{"x":170,"y":25},{"x":180,"y":5},{"x":190,"y":15},{"x":200,"y":10},{"x":210,"y":38},{"x":220,"y":12},{"x":230,"y":20},{"x":240,"y":5},{"x":250,"y":15},{"x":260,"y":8},{"x":270,"y":20},{"x":280,"y":10},{"x":290,"y":18},{"x":300,"y":30},{"x":310,"y":6},{"x":320,"y":22},{"x":330,"y":44},{"x":340,"y":10},{"x":350,"y":20},{"x":360,"y":35},{"x":370,"y":8},{"x":380,"y":25},{"x":390,"y":45},{"x":400,"y":12},{"x":410,"y":30},{"x":420,"y":42},{"x":430,"y":10},{"x":440,"y":20},{"x":450,"y":35},{"x":460,"y":5},{"x":470,"y":15},{"x":480,"y":8},{"x":490,"y":20},{"x":500,"y":12},{"x":510,"y":25},{"x":520,"y":5},{"x":530,"y":18},{"x":540,"y":10},{"x":550,"y":22},{"x":560,"y":8},{"x":570,"y":40},{"x":580,"y":15},{"x":590,"y":25},{"x":600,"y":45},{"x":610,"y":10},{"x":620,"y":30},{"x":630,"y":15},{"x":640,"y":20},{"x":650,"y":8},{"x":660,"y":25},{"x":670,"y":50},{"x":680,"y":20},{"x":690,"y":35},{"x":700,"y":48},{"x":710,"y":43},{"x":720,"y":12},{"x":730,"y":25},{"x":740,"y":18},{"x":750,"y":10},{"x":760,"y":45},{"x":770,"y":15},{"x":780,"y":28},{"x":790,"y":8},{"x":800,"y":35},{"x":810,"y":12},{"x":820,"y":20},{"x":830,"y":6},{"x":840,"y":25},{"x":850,"y":10},{"x":860,"y":22},{"x":870,"y":47},{"x":880,"y":12},{"x":890,"y":20},{"x":900,"y":35},{"x":910,"y":8},{"x":920,"y":25},{"x":930,"y":30},{"x":940,"y":10},{"x":950,"y":20},{"x":960,"y":15},{"x":970,"y":57},{"x":980,"y":12},{"x":990,"y":40},{"x":1000,"y":5},
{"x":5,"y":25},{"x":15,"y":18},{"x":25,"y":12},{"x":35,"y":10},{"x":45,"y":15},{"x":55,"y":5},{"x":65,"y":12},{"x":75,"y":20},{"x":85,"y":15},{"x":95,"y":8},{"x":105,"y":12},{"x":115,"y":15},{"x":125,"y":20},{"x":135,"y":10},{"x":145,"y":25},{"x":155,"y":15},{"x":165,"y":10},{"x":175,"y":12},{"x":185,"y":8},{"x":195,"y":10},{"x":205,"y":15},{"x":215,"y":20},{"x":225,"y":8},{"x":235,"y":12},{"x":245,"y":10},{"x":255,"y":5},{"x":265,"y":12},{"x":275,"y":6},{"x":285,"y":15},{"x":295,"y":8},{"x":305,"y":12},{"x":315,"y":10},{"x":325,"y":15},{"x":335,"y":18},{"x":345,"y":8},{"x":355,"y":12},{"x":365,"y":15},{"x":375,"y":20},{"x":385,"y":10},{"x":395,"y":15},{"x":405,"y":20},{"x":415,"y":15},{"x":425,"y":18},{"x":435,"y":12},{"x":445,"y":10},{"x":455,"y":20},{"x":465,"y":8},{"x":475,"y":12},{"x":485,"y":5},{"x":495,"y":10},{"x":505,"y":8},{"x":515,"y":12},{"x":525,"y":15},{"x":535,"y":6},{"x":545,"y":10},{"x":555,"y":15},{"x":565,"y":5},{"x":575,"y":12},{"x":585,"y":8},{"x":595,"y":15},{"x":605,"y":20},{"x":615,"y":12},{"x":625,"y":15},{"x":635,"y":10},{"x":645,"y":8},{"x":655,"y":15},{"x":665,"y":20},{"x":675,"y":25},{"x":685,"y":12},{"x":695,"y":18},{"x":705,"y":20},{"x":715,"y":15},{"x":725,"y":12},{"x":735,"y":8},{"x":745,"y":15},{"x":755,"y":20},{"x":765,"y":12},{"x":775,"y":8},{"x":785,"y":15},{"x":795,"y":10},{"x":805,"y":12},{"x":815,"y":8},{"x":825,"y":15},{"x":835,"y":10},{"x":845,"y":12},{"x":855,"y":8},{"x":865,"y":15},{"x":875,"y":20},{"x":885,"y":10},{"x":895,"y":15},{"x":905,"y":12},{"x":915,"y":18},{"x":925,"y":10},{"x":935,"y":15},{"x":945,"y":8},{"x":955,"y":12},{"x":965,"y":20},{"x":975,"y":15},{"x":985,"y":20},{"x":995,"y":10}]
},
"columns": 2,
"align": "each",
"spacing": {"row": 4.5, "column": 22},
"concat": [
{"title": "1", "width": 229, "height": 50, "layer": [
 {"data": {"name": "d1"}, "mark": {"type": "line", "color": "black", "strokeWidth": 0.9}, "encoding": {
  "x": {"field": "x", "type": "quantitative", "scale": {"domain": [-40, 1040], "nice": false, "zero": false}, "axis": {"title": "Index", "values": [0, 200, 400, 600, 800, 1000]}},
  "y": {"field": "y", "type": "quantitative", "scale": {"domain": [-6.3, 163.3], "nice": false}, "axis": {"title": "IEI (seconds)", "values": [0, 50, 100, 150]}}}},
 {"data": {"values": [{"y": 0}, {"y": 100}]}, "mark": {"type": "text", "angle": 270, "align": "center", "baseline": "bottom", "dy": -6, "fontSize": 8}, "encoding": {"text": {"field": "y", "type": "quantitative"}, "x": {"datum": -40}, "y": {"field": "y", "type": "quantitative"}}},
 {"data": {"values": [{"t": "Whittle=0.56\nDFA 1/10=0.58\nDFA 1/4=0.57"}]}, "mark": {"type": "text", "align": "left", "baseline": "middle", "lineBreak": "\n", "lineHeight": 10, "dx": 1}, "encoding": {"text": {"field": "t"}, "x": {"datum": 1040}, "y": {"datum": 78.5}}}
]},
{"title": "2", "width": 224, "height": 50, "layer": [
 {"data": {"name": "d2"}, "mark": {"type": "line", "color": "black", "strokeWidth": 0.9}, "encoding": {
  "x": {"field": "x", "type": "quantitative", "scale": {"domain": [-15, 1040], "nice": false, "zero": false}, "axis": {"title": "Index", "values": [0, 200, 400, 600, 800, 1000]}},
  "y": {"field": "y", "type": "quantitative", "scale": {"domain": [-7.9, 205.9], "nice": false}, "axis": {"title": "IEI (seconds)", "values": [0, 50, 100, 150, 200]}}}},
 {"data": {"values": [{"y": 0}, {"y": 100}]}, "mark": {"type": "text", "angle": 270, "align": "center", "baseline": "bottom", "dy": -6, "fontSize": 8}, "encoding": {"text": {"field": "y", "type": "quantitative"}, "x": {"datum": -15}, "y": {"field": "y", "type": "quantitative"}}},
 {"data": {"values": [{"t": "Whittle=0.63\nDFA 1/10=0.67\nDFA 1/4=0.73"}]}, "mark": {"type": "text", "align": "left", "baseline": "middle", "lineBreak": "\n", "lineHeight": 10, "dx": 1}, "encoding": {"text": {"field": "t"}, "x": {"datum": 1040}, "y": {"datum": 99}}}
]},
{"title": "3", "width": 229, "height": 50, "layer": [
 {"data": {"name": "d3"}, "mark": {"type": "line", "color": "black", "strokeWidth": 0.9}, "encoding": {
  "x": {"field": "x", "type": "quantitative", "scale": {"domain": [-40, 1040], "nice": false, "zero": false}, "axis": {"title": "Index", "values": [0, 200, 400, 600, 800, 1000]}},
  "y": {"field": "y", "type": "quantitative", "scale": {"domain": [-14, 364], "nice": false}, "axis": {"title": "IEI (seconds)", "values": [0, 50, 100, 150, 200, 250, 300, 350]}}}},
 {"data": {"values": [{"y": 0}, {"y": 150}, {"y": 350}]}, "mark": {"type": "text", "angle": 270, "align": "center", "baseline": "bottom", "dy": -6, "fontSize": 8}, "encoding": {"text": {"field": "y", "type": "quantitative"}, "x": {"datum": -40}, "y": {"field": "y", "type": "quantitative"}}},
 {"data": {"values": [{"t": "Whittle=0.62\nDFA 1/10=0.63\nDFA 1/4=0.61"}]}, "mark": {"type": "text", "align": "left", "baseline": "middle", "lineBreak": "\n", "lineHeight": 10, "dx": 1}, "encoding": {"text": {"field": "t"}, "x": {"datum": 1040}, "y": {"datum": 175}}}
]},
{"title": "4", "width": 224, "height": 50, "layer": [
 {"data": {"name": "d4"}, "mark": {"type": "line", "color": "black", "strokeWidth": 0.9}, "encoding": {
  "x": {"field": "x", "type": "quantitative", "scale": {"domain": [-15, 1040], "nice": false, "zero": false}, "axis": {"title": "Index", "values": [0, 200, 400, 600, 800, 1000]}},
  "y": {"field": "y", "type": "quantitative", "scale": {"domain": [-6.6, 171.6], "nice": false}, "axis": {"title": "IEI (seconds)", "values": [0, 50, 100, 150]}}}},
 {"data": {"values": [{"y": 0}, {"y": 100}]}, "mark": {"type": "text", "angle": 270, "align": "center", "baseline": "bottom", "dy": -6, "fontSize": 8}, "encoding": {"text": {"field": "y", "type": "quantitative"}, "x": {"datum": -15}, "y": {"field": "y", "type": "quantitative"}}},
 {"data": {"values": [{"t": "Whittle=0.60\nDFA 1/10=0.61\nDFA 1/4=0.64"}]}, "mark": {"type": "text", "align": "left", "baseline": "middle", "lineBreak": "\n", "lineHeight": 10, "dx": 1}, "encoding": {"text": {"field": "t"}, "x": {"datum": 1040}, "y": {"datum": 82.5}}}
]},
{"title": "5", "width": 229, "height": 50, "layer": [
 {"data": {"name": "d5"}, "mark": {"type": "line", "color": "black", "strokeWidth": 0.9}, "encoding": {
  "x": {"field": "x", "type": "quantitative", "scale": {"domain": [-40, 1040], "nice": false, "zero": false}, "axis": {"title": "Index", "values": [0, 200, 400, 600, 800, 1000]}},
  "y": {"field": "y", "type": "quantitative", "scale": {"domain": [-11.1, 289.1], "nice": false}, "axis": {"title": "IEI (seconds)", "values": [0, 50, 100, 150, 200, 250]}}}},
 {"data": {"values": [{"y": 0}, {"y": 150}]}, "mark": {"type": "text", "angle": 270, "align": "center", "baseline": "bottom", "dy": -6, "fontSize": 8}, "encoding": {"text": {"field": "y", "type": "quantitative"}, "x": {"datum": -40}, "y": {"field": "y", "type": "quantitative"}}},
 {"data": {"values": [{"t": "Whittle=0.59\nDFA 1/10=0.66\nDFA 1/4=0.69"}]}, "mark": {"type": "text", "align": "left", "baseline": "middle", "lineBreak": "\n", "lineHeight": 10, "dx": 1}, "encoding": {"text": {"field": "t"}, "x": {"datum": 1040}, "y": {"datum": 139}}}
]},
{"title": "6", "width": 224, "height": 50, "layer": [
 {"data": {"name": "d6"}, "mark": {"type": "line", "color": "black", "strokeWidth": 0.9}, "encoding": {
  "x": {"field": "x", "type": "quantitative", "scale": {"domain": [-15, 1040], "nice": false, "zero": false}, "axis": {"title": "Index", "values": [0, 200, 400, 600, 800, 1000]}},
  "y": {"field": "y", "type": "quantitative", "scale": {"domain": [-7.5, 194.5], "nice": false}, "axis": {"title": "IEI (seconds)", "values": [0, 50, 100, 150]}}}},
 {"data": {"values": [{"y": 0}, {"y": 100}]}, "mark": {"type": "text", "angle": 270, "align": "center", "baseline": "bottom", "dy": -6, "fontSize": 8}, "encoding": {"text": {"field": "y", "type": "quantitative"}, "x": {"datum": -15}, "y": {"field": "y", "type": "quantitative"}}},
 {"data": {"values": [{"t": "Whittle=0.69\nDFA 1/10=0.76\nDFA 1/4=0.78"}]}, "mark": {"type": "text", "align": "left", "baseline": "middle", "lineBreak": "\n", "lineHeight": 10, "dx": 1}, "encoding": {"text": {"field": "t"}, "x": {"datum": 1040}, "y": {"datum": 93.5}}}
]},
{"title": "7", "width": 229, "height": 50, "layer": [
 {"data": {"name": "d7"}, "mark": {"type": "line", "color": "black", "strokeWidth": 0.9}, "encoding": {
  "x": {"field": "x", "type": "quantitative", "scale": {"domain": [-40, 1040], "nice": false, "zero": false}, "axis": {"title": "Index", "values": [0, 200, 400, 600, 800, 1000]}},
  "y": {"field": "y", "type": "quantitative", "scale": {"domain": [-11, 287], "nice": false}, "axis": {"title": "IEI (seconds)", "values": [0, 50, 100, 150, 200, 250]}}}},
 {"data": {"values": [{"y": 0}, {"y": 150}]}, "mark": {"type": "text", "angle": 270, "align": "center", "baseline": "bottom", "dy": -6, "fontSize": 8}, "encoding": {"text": {"field": "y", "type": "quantitative"}, "x": {"datum": -40}, "y": {"field": "y", "type": "quantitative"}}},
 {"data": {"values": [{"t": "Whittle=0.61\nDFA 1/10=0.66\nDFA 1/4=0.66"}]}, "mark": {"type": "text", "align": "left", "baseline": "middle", "lineBreak": "\n", "lineHeight": 10, "dx": 1}, "encoding": {"text": {"field": "t"}, "x": {"datum": 1040}, "y": {"datum": 138}}}
]},
{"title": "8", "width": 224, "height": 50, "layer": [
 {"data": {"name": "d8"}, "mark": {"type": "line", "color": "black", "strokeWidth": 0.9}, "encoding": {
  "x": {"field": "x", "type": "quantitative", "scale": {"domain": [-15, 1040], "nice": false, "zero": false}, "axis": {"title": "Index", "values": [0, 200, 400, 600, 800, 1000]}},
  "y": {"field": "y", "type": "quantitative", "scale": {"domain": [-10, 260], "nice": false}, "axis": {"title": "IEI (seconds)", "values": [0, 50, 100, 150, 200, 250]}}}},
 {"data": {"values": [{"y": 0}, {"y": 100}, {"y": 250}]}, "mark": {"type": "text", "angle": 270, "align": "center", "baseline": "bottom", "dy": -6, "fontSize": 8}, "encoding": {"text": {"field": "y", "type": "quantitative"}, "x": {"datum": -15}, "y": {"field": "y", "type": "quantitative"}}},
 {"data": {"values": [{"t": "Whittle=0.60\nDFA 1/10=0.69\nDFA 1/4=0.66"}]}, "mark": {"type": "text", "align": "left", "baseline": "middle", "lineBreak": "\n", "lineHeight": 10, "dx": 1}, "encoding": {"text": {"field": "t"}, "x": {"datum": 1040}, "y": {"datum": 125}}}
]},
{"title": "9", "width": 229, "height": 50, "layer": [
 {"data": {"name": "d9"}, "mark": {"type": "line", "color": "black", "strokeWidth": 0.9}, "encoding": {
  "x": {"field": "x", "type": "quantitative", "scale": {"domain": [-40, 1040], "nice": false, "zero": false}, "axis": {"title": "Index", "values": [0, 200, 400, 600, 800, 1000]}},
  "y": {"field": "y", "type": "quantitative", "scale": {"domain": [-4.5, 116.5], "nice": false}, "axis": {"title": "IEI (seconds)", "values": [0, 20, 40, 60, 80, 100]}}}},
 {"data": {"values": [{"y": 0}, {"y": 40}, {"y": 100}]}, "mark": {"type": "text", "angle": 270, "align": "center", "baseline": "bottom", "dy": -6, "fontSize": 8}, "encoding": {"text": {"field": "y", "type": "quantitative"}, "x": {"datum": -40}, "y": {"field": "y", "type": "quantitative"}}},
 {"data": {"values": [{"t": "Whittle=0.65\nDFA 1/10=0.65\nDFA 1/4=0.66"}]}, "mark": {"type": "text", "align": "left", "baseline": "middle", "lineBreak": "\n", "lineHeight": 10, "dx": 1}, "encoding": {"text": {"field": "t"}, "x": {"datum": 1040}, "y": {"datum": 56}}}
]},
{"title": "10", "width": 224, "height": 50, "layer": [
 {"data": {"name": "d10"}, "mark": {"type": "line", "color": "black", "strokeWidth": 0.9}, "encoding": {
  "x": {"field": "x", "type": "quantitative", "scale": {"domain": [-15, 1040], "nice": false, "zero": false}, "axis": {"title": "Index", "values": [0, 200, 400, 600, 800, 1000]}},
  "y": {"field": "y", "type": "quantitative", "scale": {"domain": [-7.8, 202.8], "nice": false}, "axis": {"title": "IEI (seconds)", "values": [0, 50, 100, 150, 200]}}}},
 {"data": {"values": [{"y": 0}, {"y": 100}, {"y": 200}]}, "mark": {"type": "text", "angle": 270, "align": "center", "baseline": "bottom", "dy": -6, "fontSize": 8}, "encoding": {"text": {"field": "y", "type": "quantitative"}, "x": {"datum": -15}, "y": {"field": "y", "type": "quantitative"}}},
 {"data": {"values": [{"t": "Whittle=0.70\nDFA 1/10=0.79\nDFA 1/4=0.77"}]}, "mark": {"type": "text", "align": "left", "baseline": "middle", "lineBreak": "\n", "lineHeight": 10, "dx": 1}, "encoding": {"text": {"field": "t"}, "x": {"datum": 1040}, "y": {"datum": 97.5}}}
]},
{"title": "11", "width": 229, "height": 50, "layer": [
 {"data": {"name": "d11"}, "mark": {"type": "line", "color": "black", "strokeWidth": 0.9}, "encoding": {
  "x": {"field": "x", "type": "quantitative", "scale": {"domain": [-40, 1040], "nice": false, "zero": false}, "axis": {"title": "Index", "values": [0, 200, 400, 600, 800, 1000]}},
  "y": {"field": "y", "type": "quantitative", "scale": {"domain": [-2.3, 59.3], "nice": false}, "axis": {"title": "IEI (seconds)", "values": [0, 10, 20, 30, 40, 50]}}}},
 {"data": {"values": [{"y": 0}, {"y": 20}, {"y": 50}]}, "mark": {"type": "text", "angle": 270, "align": "center", "baseline": "bottom", "dy": -6, "fontSize": 8}, "encoding": {"text": {"field": "y", "type": "quantitative"}, "x": {"datum": -40}, "y": {"field": "y", "type": "quantitative"}}},
 {"data": {"values": [{"t": "Whittle=0.55\nDFA 1/10=0.73\nDFA 1/4=0.69"}]}, "mark": {"type": "text", "align": "left", "baseline": "middle", "lineBreak": "\n", "lineHeight": 10, "dx": 1}, "encoding": {"text": {"field": "t"}, "x": {"datum": 1040}, "y": {"datum": 28.5}}}
]}
]
}
